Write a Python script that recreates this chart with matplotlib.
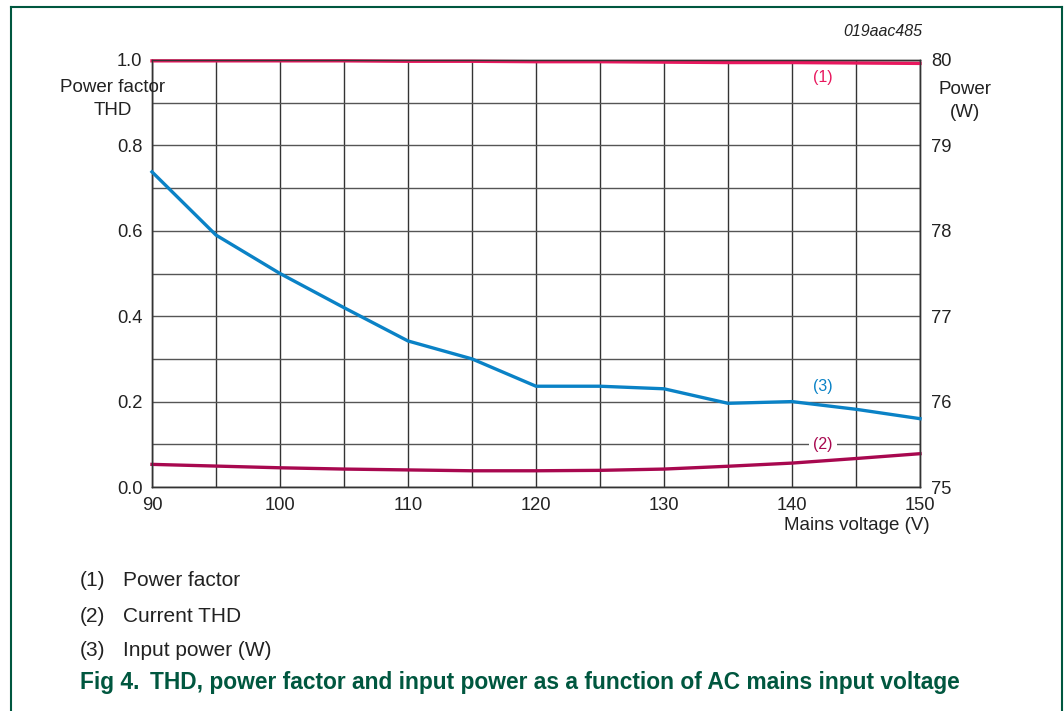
import matplotlib
matplotlib.use("Agg")
import matplotlib.pyplot as plt
from matplotlib.lines import Line2D

plt.rcParams['font.family'] = ['Liberation Sans', 'DejaVu Sans']

# ---- data ----
voltage = [90, 95, 100, 105, 110, 115, 120, 125, 130, 135, 140, 145, 150]
power_factor = [0.998, 0.998, 0.998, 0.998, 0.997, 0.997, 0.996, 0.996, 0.995, 0.994, 0.994, 0.993, 0.992]
current_thd = [0.053, 0.049, 0.045, 0.042, 0.040, 0.038, 0.038, 0.039, 0.042, 0.0486, 0.056, 0.0667, 0.078]
input_power = [78.69, 77.95, 77.5, 77.1, 76.71, 76.5, 76.18, 76.18, 76.15, 75.98, 76.0, 75.91, 75.8]

left_ticks = [0.0, 0.2, 0.4, 0.6, 0.8, 1.0]
left_ticklabels = ["0.0", "0.2", "0.4", "0.6", "0.8", "1.0"]
right_ticks = [75, 76, 77, 78, 79, 80]
x_ticks = [90, 100, 110, 120, 130, 140, 150]

PF_COLOR = "#e8185e"
THD_COLOR = "#a8084f"
PWR_COLOR = "#0a82c6"
GREEN = "#00573f"
GRID = "#333333"
TXT = "#222222"

W, H = 1064, 711
fig = plt.figure(figsize=(W / 100, H / 100), dpi=100)
ax = fig.add_axes([152 / W, 1 - 487 / H, (920 - 152) / W, (487 - 60) / H])
ax2 = ax.twinx()

ax.set_xlim(90, 150)
ax.set_ylim(0, 1.0)
ax2.set_ylim(75, 80)

# grid
ax.set_xticks(x_ticks)
ax.set_xticks([v for v in range(95, 150, 10)], minor=True)
ax.set_yticks(left_ticks)
ax.set_yticks([0.1, 0.3, 0.5, 0.7, 0.9], minor=True)
ax.set_yticklabels(left_ticklabels)
ax.grid(True, which='both', axis='x', color=GRID, lw=1.0)
ax.grid(True, which='both', axis='y', color="#555555", lw=1.0)
ax.set_axisbelow(True)
ax2.set_yticks(right_ticks)

for a in (ax, ax2):
    for s in a.spines.values():
        s.set_color(GRID)
        s.set_linewidth(1.0)
    a.tick_params(which='both', length=0, labelsize=13.2, colors=TXT)
ax.tick_params(axis='y', pad=7)
ax.tick_params(axis='x', pad=7)
ax2.tick_params(axis='y', pad=8)

# lines
ax.plot(voltage, current_thd, color=THD_COLOR, lw=2.4, clip_on=False, zorder=3)
ax.plot(voltage, power_factor, color=PF_COLOR, lw=2.4, clip_on=False, zorder=3)
ax2.plot(voltage, input_power, color=PWR_COLOR, lw=2.4, clip_on=False, zorder=3)

# curve labels
ax.text(142.4, 0.96, "(1)", color=PF_COLOR, fontsize=11.5, ha='center', va='center')
ax.text(142.4, 0.1, "(2)", color=THD_COLOR, fontsize=11.5, ha='center', va='center',
        bbox=dict(facecolor='white', edgecolor='none', pad=3), zorder=4)
ax.text(142.4, 0.236, "(3)", color=PWR_COLOR, fontsize=11.5, ha='center', va='center')

# axis titles
fig.text(113 / W, 1 - 99 / H, "Power factor\nTHD", ha='center', va='center',
         fontsize=13.5, color=TXT, linespacing=1.45)
fig.text(965 / W, 1 - 101 / H, "Power\n(W)", ha='center', va='center',
         fontsize=13.5, color=TXT, linespacing=1.45)
fig.text(930 / W, 1 - 525 / H, "Mains voltage (V)", ha='right', va='center',
         fontsize=13.5, color=TXT)
fig.text(922 / W, 1 - 32 / H, "019aac485", ha='right', va='center',
         fontsize=11.5, style='italic', color=TXT)

# legend notes
notes = [("(1)", "Power factor"), ("(2)", "Current THD"), ("(3)", "Input power (W)")]
for i, (k, t) in enumerate(notes):
    y = 1 - (581 + 35 * i) / H
    fig.text(80 / W, y, k, ha='left', va='center', fontsize=15, color=TXT)
    fig.text(123 / W, y, t, ha='left', va='center', fontsize=15, color=TXT)

# caption
fig.text(80 / W, 1 - 682 / H, "Fig 4.", ha='left', va='center', fontsize=16.4,
         fontweight='bold', color=GREEN)
fig.text(150 / W, 1 - 682 / H, "THD, power factor and input power as a function of AC mains input voltage",
         ha='left', va='center', fontsize=16.4, fontweight='bold', color=GREEN)

# frame
fx0, fx1, fy0 = 10.5 / W, 1061.5 / W, 1 - 6.5 / H
fig.add_artist(Line2D([fx0, fx0], [0, fy0], color=GREEN, lw=1.5))
fig.add_artist(Line2D([fx0, fx1], [fy0, fy0], color=GREEN, lw=1.5))
fig.add_artist(Line2D([fx1, fx1], [0, fy0], color=GREEN, lw=1.5))

fig.savefig("out.png", dpi=100)
